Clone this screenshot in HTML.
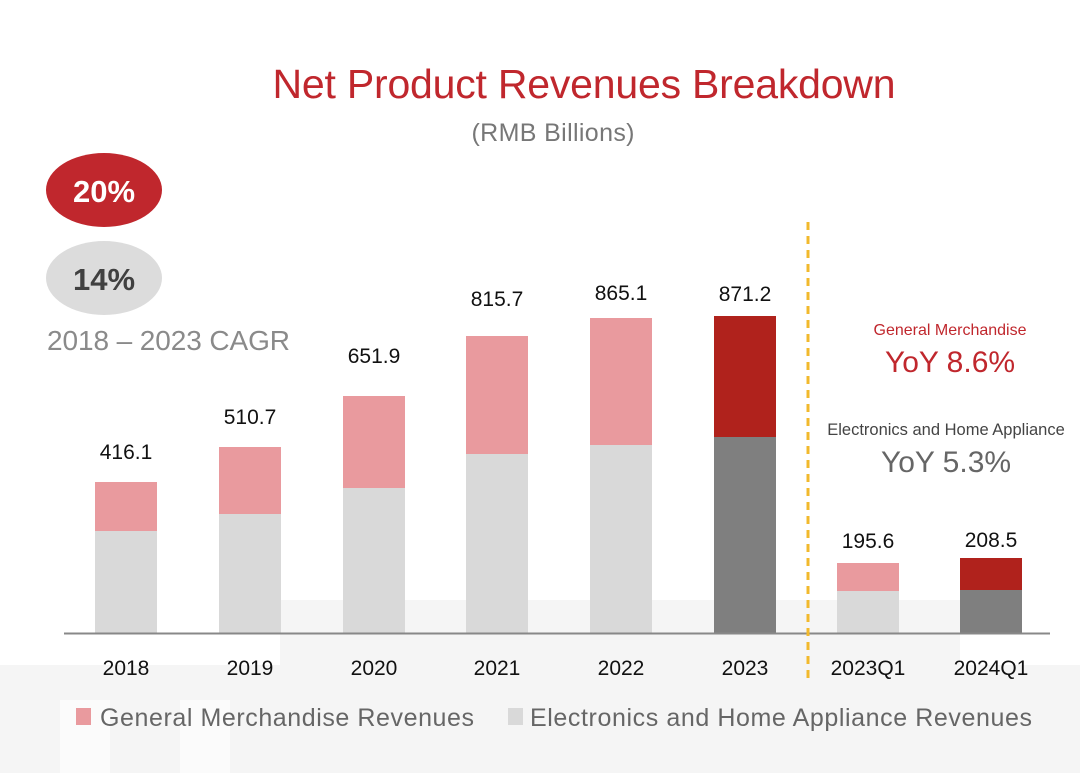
<!DOCTYPE html>
<html><head><meta charset="utf-8"><style>
body{margin:0;background:#fff}
svg{display:block;font-family:"Liberation Sans",sans-serif}
</style></head><body>
<svg width="1080" height="773" viewBox="0 0 1080 773">
<rect width="1080" height="773" fill="#fff"/>
<g fill="#f5f5f5">
<rect x="0" y="665" width="1080" height="108"/>
<rect x="280" y="600" width="680" height="65"/>
</g>
<g fill="#fbfbfb">
<rect x="60" y="700" width="50" height="73"/>
<rect x="180" y="700" width="50" height="73"/>
</g>
<text x="584" y="98" text-anchor="middle" font-size="41" fill="#c0272d" textLength="623">Net Product Revenues Breakdown</text>
<text x="553" y="141" text-anchor="middle" font-size="25" fill="#777" textLength="163">(RMB Billions)</text>
<ellipse cx="104" cy="190" rx="58" ry="37" fill="#c0272d"/>
<text x="104" y="202" text-anchor="middle" font-size="31" font-weight="bold" fill="#fff">20%</text>
<ellipse cx="104" cy="278" rx="58" ry="37" fill="#dcdcdc"/>
<text x="104" y="290" text-anchor="middle" font-size="31" font-weight="bold" fill="#404040">14%</text>
<text x="47" y="350" font-size="28" fill="#8a8a8a" textLength="243">2018 – 2023 CAGR</text>
<g fill="#d9d9d9">
<rect x="95" y="531" width="62" height="102"/>
<rect x="219" y="514" width="62" height="119"/>
<rect x="343" y="488" width="62" height="145"/>
<rect x="466" y="454" width="62" height="179"/>
<rect x="590" y="445" width="62" height="188"/>
<rect x="837" y="591" width="62" height="42"/>
</g>
<g fill="#e99a9e">
<rect x="95" y="482" width="62" height="49"/>
<rect x="219" y="447" width="62" height="67"/>
<rect x="343" y="396" width="62" height="92"/>
<rect x="466" y="336" width="62" height="118"/>
<rect x="590" y="318" width="62" height="127"/>
<rect x="837" y="563" width="62" height="28"/>
</g>
<rect x="714" y="437" width="62" height="196" fill="#7f7f7f"/>
<rect x="714" y="316" width="62" height="121" fill="#b0221c"/>
<rect x="960" y="590" width="62" height="43" fill="#7f7f7f"/>
<rect x="960" y="558" width="62" height="32" fill="#b0221c"/>
<line x1="64" y1="633.5" x2="1050" y2="633.5" stroke="#888" stroke-width="2"/>
<line x1="808" y1="222" x2="808" y2="682" stroke="#f2b92c" stroke-width="3" stroke-dasharray="8,6"/>
<g font-size="21" text-anchor="middle" fill="#111">
<text x="126" y="459">416.1</text>
<text x="250" y="424">510.7</text>
<text x="374" y="363">651.9</text>
<text x="497" y="306">815.7</text>
<text x="621" y="300">865.1</text>
<text x="745" y="301">871.2</text>
<text x="868" y="548">195.6</text>
<text x="991" y="547">208.5</text>
</g>
<g font-size="21" text-anchor="middle" fill="#111">
<text x="126" y="675">2018</text>
<text x="250" y="675">2019</text>
<text x="374" y="675">2020</text>
<text x="497" y="675">2021</text>
<text x="621" y="675">2022</text>
<text x="745" y="675">2023</text>
<text x="868" y="675">2023Q1</text>
<text x="991" y="675">2024Q1</text>
</g>
<text x="950" y="335" text-anchor="middle" font-size="16" fill="#c0272d">General Merchandise</text>
<text x="950" y="372" text-anchor="middle" font-size="30" fill="#c0272d">YoY 8.6%</text>
<text x="946" y="435" text-anchor="middle" font-size="16.5" fill="#444">Electronics and Home Appliance</text>
<text x="946" y="472" text-anchor="middle" font-size="30" fill="#666">YoY 5.3%</text>
<rect x="76" y="708" width="15" height="17" fill="#e99a9e"/>
<text x="100" y="726" font-size="25" fill="#666" textLength="374">General Merchandise Revenues</text>
<rect x="508" y="708" width="15" height="17" fill="#d9d9d9"/>
<text x="530" y="726" font-size="25" fill="#666" textLength="502">Electronics and Home Appliance Revenues</text>
</svg>
</body></html>
